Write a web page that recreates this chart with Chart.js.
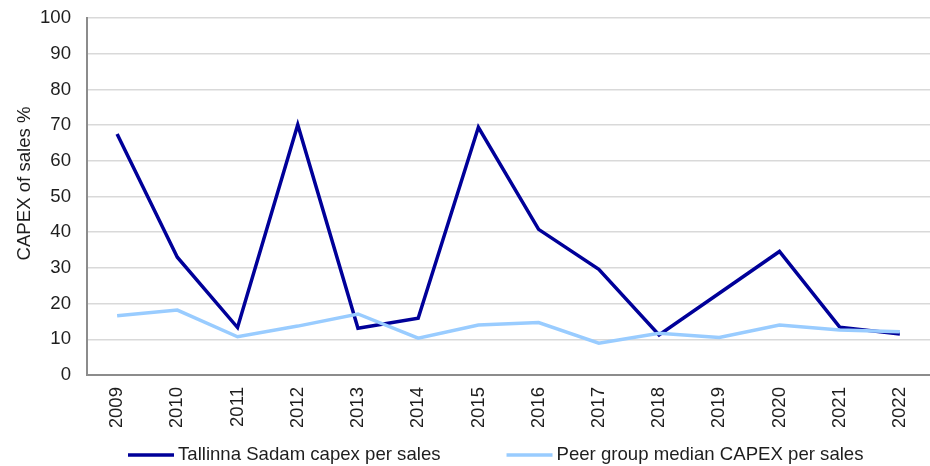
<!DOCTYPE html>
<html lang="en">
<head>
    <meta charset="UTF-8">
    <title>CAPEX of sales</title>
    <style>
        html, body { margin: 0; padding: 0; background: #ffffff; }
        #wrap { width: 930px; height: 466px; }
    </style>
</head>
<body>
    <div id="wrap"><canvas id="chartId" width="930" height="466"></canvas></div>
    <script src="https://cdn.jsdelivr.net/npm/chart.js@4.4.1/dist/chart.umd.min.js"></script>
    <script>
        const years = ['2009', '2010', '2011', '2012', '2013', '2014', '2015', '2016', '2017', '2018', '2019', '2020', '2021', '2022'];
        const tallinnaCapex = [67.5, 33.0, 13.3, 70.1, 13.1, 15.9, 69.4, 40.8, 29.6, 11.2, 22.9, 34.6, 13.4, 11.5];
        const peerMedianCapex = [16.6, 18.2, 10.7, 13.7, 17.1, 10.3, 14.0, 14.7, 8.9, 11.7, 10.5, 14.0, 12.6, 12.1];
        const yTicks = [0, 10, 20, 30, 40, 50, 60, 70, 80, 90, 100];
        const yTitle = 'CAPEX of sales %';

        const FONT = "'Liberation Sans', Arial, sans-serif";
        const FONT_SIZE = 18.6;
        const TEXT = '#1e1e1e';

        // y title sits a little above the middle of the plot, so it is drawn here
        const yTitlePlugin = {
            id: 'yTitlePlugin',
            afterDraw(chart) {
                const ctx = chart.ctx;
                const area = chart.chartArea;
                ctx.save();
                ctx.font = FONT_SIZE + 'px ' + FONT;
                ctx.fillStyle = TEXT;
                ctx.textAlign = 'center';
                ctx.textBaseline = 'middle';
                ctx.translate(25, (area.top + area.bottom) / 2 - 13);
                ctx.rotate(-Math.PI / 2);
                ctx.fillText(yTitle, 0, 0);
                ctx.restore();
            }
        };

        // legend drawn under the axis: short line sample followed by the label
        const lineLegend = {
            id: 'lineLegend',
            afterDraw(chart) {
                const ctx = chart.ctx;
                ctx.save();
                ctx.font = FONT_SIZE + 'px ' + FONT;
                ctx.textBaseline = 'middle';
                ctx.textAlign = 'left';
                let x = 128;
                const y = 455;
                chart.data.datasets.forEach(ds => {
                    ctx.strokeStyle = ds.borderColor;
                    ctx.lineWidth = 3.5;
                    ctx.beginPath();
                    ctx.moveTo(x, y);
                    ctx.lineTo(x + 46, y);
                    ctx.stroke();
                    ctx.fillStyle = TEXT;
                    ctx.fillText(ds.label, x + 50, y);
                    x += 50 + ctx.measureText(ds.label).width + 66;
                });
                ctx.restore();
            }
        };

        const ctx = document.getElementById('chartId').getContext('2d');
        const myChart = new Chart(ctx, {
            type: 'line',
            data: {
                labels: years,
                datasets: [{
                    label: 'Tallinna Sadam capex per sales',
                    data: tallinnaCapex,
                    borderColor: '#000099',
                    backgroundColor: '#000099',
                    borderWidth: 3.5,
                    pointRadius: 0,
                    tension: 0,
                    order: 1
                }, {
                    label: 'Peer group median CAPEX per sales',
                    data: peerMedianCapex,
                    borderColor: '#99ccff',
                    backgroundColor: '#99ccff',
                    borderWidth: 3.5,
                    pointRadius: 0,
                    tension: 0,
                    order: 0
                }]
            },
            options: {
                responsive: false,
                animation: false,
                layout: { padding: { top: 18, right: 0, bottom: 39, left: 0 } },
                plugins: {
                    legend: { display: false },
                    tooltip: { enabled: false }
                },
                scales: {
                    x: {
                        offset: true,
                        grid: { display: false, drawTicks: false },
                        border: { color: '#8c8c8c', width: 2 },
                        ticks: {
                            minRotation: 90,
                            maxRotation: 90,
                            autoSkip: false,
                            padding: 12,
                            color: TEXT,
                            font: { family: FONT, size: FONT_SIZE }
                        },
                        afterFit(scale) {
                            scale.height = 52;
                            scale.paddingLeft = 0;
                            scale.paddingRight = 0;
                        }
                    },
                    y: {
                        min: 0,
                        max: 100,
                        afterBuildTicks(scale) { scale.ticks = yTicks.map(v => ({ value: v })); },
                        grid: { color: '#d9d9d9', lineWidth: 1.5, drawTicks: false },
                        border: { color: '#8c8c8c', width: 2 },
                        ticks: {
                            padding: 16,
                            color: TEXT,
                            font: { family: FONT, size: FONT_SIZE }
                        },
                        afterFit(scale) {
                            scale.width = 87;
                            scale.paddingTop = 0;
                            scale.paddingBottom = 0;
                        }
                    }
                }
            },
            plugins: [yTitlePlugin, lineLegend]
        });
    </script>
</body>
</html>
